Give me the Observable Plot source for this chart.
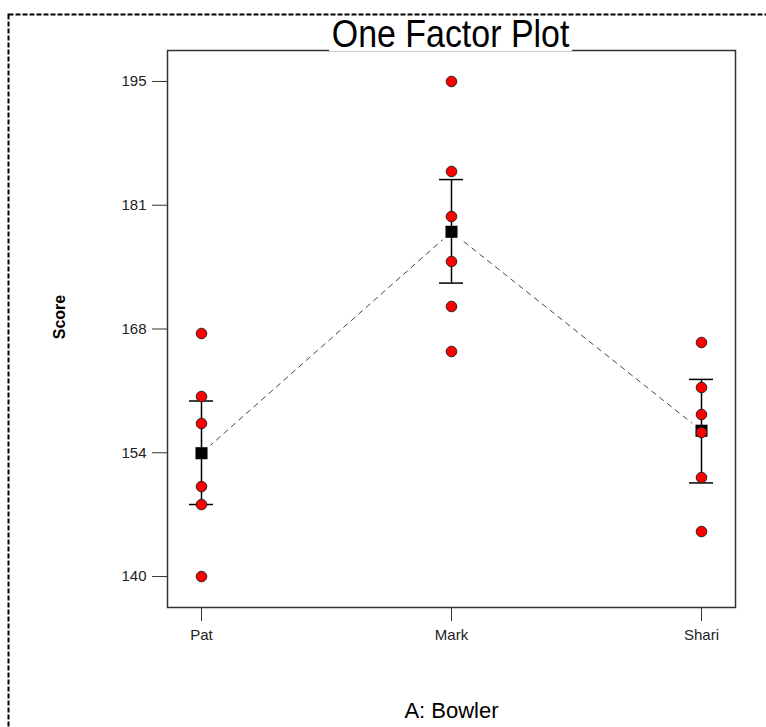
<!DOCTYPE html>
<html>
<head>
<meta charset="utf-8">
<script src="https://cdn.jsdelivr.net/npm/d3@7"></script>
<script src="https://cdn.jsdelivr.net/npm/@observablehq/plot@0.6"></script>
<style>
  html, body { margin: 0; padding: 0; background: #fff; overflow: hidden; }
  #wrap { position: relative; width: 766px; height: 727px; }
  #title {
    position: absolute; left: 167px; width: 568px; top: 16px;
    text-align: center; pointer-events: none;
  }
  #title span {
    display: inline-block; background: #fff; color: #000;
    font-family: "Liberation Sans", Arial, sans-serif;
    font-size: 39px; line-height: 35px; padding: 0 3px;
    transform: scaleX(0.87); transform-origin: center;
  }
</style>
</head>
<body>
<div id="wrap">
  <div id="chart"></div>
  <div id="title"><span>One Factor Plot</span></div>
</div>
<script>
// ---- data ----
const bowlers = ["Pat", "Mark", "Shari"];
const patScores = [167, 160, 157, 150, 148, 140];
const markScores = [195, 185, 180, 175, 170, 165];
const shariScores = [166, 161, 158, 156, 151, 145];
const meanScores = [153.7, 178.3, 156.2];
const lsdLow = [148.0, 172.6, 150.4];
const lsdHigh = [159.5, 184.1, 161.9];
const yTicks = [140, 153.75, 167.5, 181.25, 195];
const titleText = "One Factor Plot";
const xLabel = "A: Bowler";
const yLabel = "Score";

// ---- tables built from the arrays ----
const scoreSets = [patScores, markScores, shariScores];
const points = bowlers.flatMap((b, i) => scoreSets[i].map(s => ({bowler: b, score: s})));
const means = bowlers.map((b, i) => ({bowler: b, mean: meanScores[i], lo: lsdLow[i], hi: lsdHigh[i]}));

const font = "'Liberation Sans', Arial, sans-serif";

const chart = Plot.plot({
  width: 766,
  height: 727,
  marginLeft: 167,
  marginRight: 31,
  marginTop: 50,
  marginBottom: 120,
  style: {fontFamily: font, background: "white", overflow: "hidden"},
  x: {type: "point", domain: bowlers, padding: 0.135},
  y: {domain: [136.56, 198.44]},
  marks: [
    // outer dashed border
    Plot.frame({stroke: "#000", strokeWidth: 2, strokeDasharray: "5,2",
      insetLeft: -159, insetTop: -36, insetRight: -40, insetBottom: -130}),
    Plot.frame({stroke: "#333", strokeWidth: 1.5}),
    Plot.axisY({ticks: yTicks, tickFormat: d => String(Math.round(d)), tickSize: 15, tickPadding: 6,
      fontSize: 15, stroke: "#333", color: "#222", label: null}),
    Plot.axisX({tickSize: 14, tickPadding: 8, fontSize: 15, stroke: "#333", color: "#222", label: null}),
    Plot.text([yLabel], {frameAnchor: "left", textAnchor: "middle", rotate: -90, dx: -108, dy: -12,
      fontSize: 16, fontWeight: "bold", fill: "#000"}),
    Plot.text([xLabel], {frameAnchor: "bottom", dy: 110, fontSize: 22, fill: "#000"}),
    // dashed line joining the means
    Plot.line(means, {x: "bowler", y: "mean", stroke: "#444", strokeWidth: 1, strokeDasharray: "5,5"}),
    // small white gap around each mean
    Plot.dot(means, {x: "bowler", y: "mean", r: 12, fill: "white"}),
    // LSD bars
    Plot.ruleX(means, {x: "bowler", y1: "lo", y2: "hi", stroke: "#000", strokeWidth: 1.5}),
    Plot.ruleY(means, {y: "lo", x1: "bowler", x2: "bowler", insetLeft: -12, insetRight: -12, stroke: "#000", strokeWidth: 1.5}),
    Plot.ruleY(means, {y: "hi", x1: "bowler", x2: "bowler", insetLeft: -12, insetRight: -12, stroke: "#000", strokeWidth: 1.5}),
    // mean squares
    Plot.dot(means, {x: "bowler", y: "mean", symbol: "square", r: 6.8, fill: "#000"}),
    // observations
    Plot.dot(points, {x: "bowler", y: "score", r: 5.3, fill: "#ff0000", stroke: "#222", strokeWidth: 1})
  ]
});
document.getElementById("chart").appendChild(chart);
document.querySelector("#title span").textContent = titleText;
</script>
</body>
</html>
